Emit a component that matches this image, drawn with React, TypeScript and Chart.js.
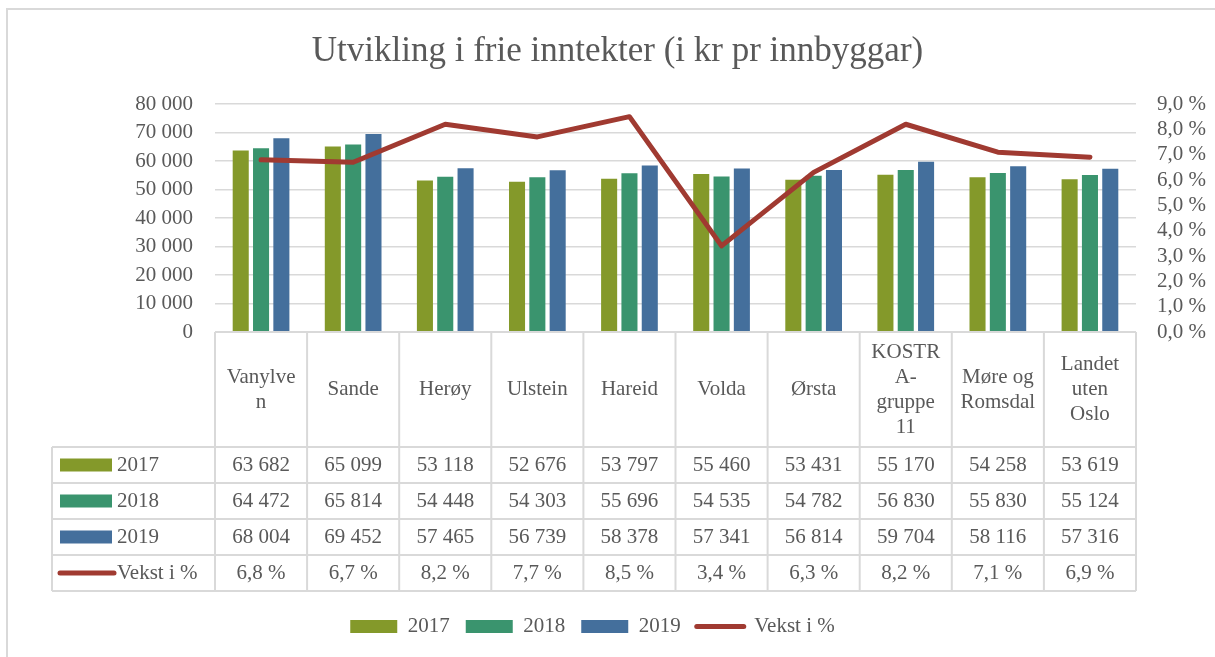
import React, { useEffect, useRef } from "react";
import { Chart, registerables } from "chart.js";

Chart.register(...registerables);

// ---------- data ----------
const CATEGORIES: string[][] = [
  ["Vanylve", "n"],
  ["Sande"],
  ["Herøy"],
  ["Ulstein"],
  ["Hareid"],
  ["Volda"],
  ["Ørsta"],
  ["KOSTR", "A-", "gruppe", "11"],
  ["Møre og", "Romsdal"],
  ["Landet", "uten", "Oslo"],
];
const SERIES_LABELS = ["2017", "2018", "2019"];
const VALUES_2017 = [63682, 65099, 53118, 52676, 53797, 55460, 53431, 55170, 54258, 53619];
const VALUES_2018 = [64472, 65814, 54448, 54303, 55696, 54535, 54782, 56830, 55830, 55124];
const VALUES_2019 = [68004, 69452, 57465, 56739, 58378, 57341, 56814, 59704, 58116, 57316];
const GROWTH_LABEL = "Vekst i %";
const GROWTH = [6.8, 6.7, 8.2, 7.7, 8.5, 3.4, 6.3, 8.2, 7.1, 6.9];
const TITLE = "Utvikling i frie inntekter (i kr pr innbyggar)";
const LEFT_MAX = 80000;
const LEFT_STEP = 10000;
const RIGHT_MAX = 9;
const RIGHT_STEP = 1;

// ---------- style ----------
const BAR_COLORS = ["#84992A", "#3A946E", "#446F9C"];
const LINE_COLOR = "#A03A31";
const TEXT = "#595959";
const GRID = "#D9D9D9";
const FONT = "'Liberation Serif', 'Times New Roman', serif";
const FS = 21;

const fmtInt = (v: number) =>
  String(Math.round(v)).replace(/\B(?=(\d{3})+(?!\d))/g, " ");
const fmtPct = (v: number) => v.toFixed(1).replace(".", ",") + " %";

const HEADER_H = 115;
const ROW_H = 36;
const TABLE_LEFT = 52;

const backgroundPlugin = {
  id: "bgBorder",
  beforeDraw(chart: any) {
    const ctx = chart.ctx;
    ctx.save();
    ctx.fillStyle = "#ffffff";
    ctx.fillRect(0, 0, chart.width, chart.height);
    ctx.strokeStyle = GRID;
    ctx.lineWidth = 2;
    ctx.beginPath();
    ctx.moveTo(7, chart.height);
    ctx.lineTo(7, 9);
    ctx.lineTo(chart.width, 9);
    ctx.stroke();
    ctx.restore();
  },
};

const shiftPlugin = {
  id: "shiftBoxes",
  afterLayout(chart: any) {
    const l = chart.legend;
    if (l) {
      l.left -= 15;
      l.right -= 15;
    }
    const t = chart.titleBlock;
    if (t) {
      t.left += 10;
      t.right += 10;
    }
  },
};

const tablePlugin = {
  id: "dataTable",
  afterDraw(chart: any) {
    const { ctx, chartArea, scales } = chart;
    const xs = scales.x;
    const n = CATEGORIES.length;
    const colW = (chartArea.right - chartArea.left) / n;
    const top = chartArea.bottom;
    const rowsTop = top + HEADER_H;
    const bottom = rowsTop + ROW_H * 4;
    const rows = [
      { label: SERIES_LABELS[0], values: VALUES_2017, color: BAR_COLORS[0], line: false, fmt: fmtInt },
      { label: SERIES_LABELS[1], values: VALUES_2018, color: BAR_COLORS[1], line: false, fmt: fmtInt },
      { label: SERIES_LABELS[2], values: VALUES_2019, color: BAR_COLORS[2], line: false, fmt: fmtInt },
      { label: GROWTH_LABEL, values: GROWTH, color: LINE_COLOR, line: true, fmt: fmtPct },
    ];

    ctx.save();
    ctx.strokeStyle = GRID;
    ctx.lineWidth = 2;
    ctx.beginPath();
    ctx.moveTo(chartArea.left, top);
    ctx.lineTo(chartArea.right, top);
    for (let r = 0; r <= 4; r++) {
      const y = rowsTop + r * ROW_H;
      ctx.moveTo(TABLE_LEFT, y);
      ctx.lineTo(chartArea.right, y);
    }
    for (let k = 0; k <= n; k++) {
      const x = chartArea.left + k * colW;
      ctx.moveTo(x, top);
      ctx.lineTo(x, bottom);
    }
    ctx.moveTo(TABLE_LEFT, rowsTop);
    ctx.lineTo(TABLE_LEFT, bottom);
    ctx.stroke();

    ctx.fillStyle = TEXT;
    ctx.font = `${FS}px ${FONT}`;
    ctx.textAlign = "center";
    ctx.textBaseline = "middle";
    const lh = 25;
    CATEGORIES.forEach((lines, i) => {
      const cx = xs.getPixelForValue(i);
      const y0 = top + HEADER_H / 2 - ((lines.length - 1) * lh) / 2;
      lines.forEach((t, j) => ctx.fillText(t, cx, y0 + j * lh));
    });

    rows.forEach((row, r) => {
      const cy = rowsTop + r * ROW_H + ROW_H / 2;
      if (row.line) {
        ctx.strokeStyle = row.color;
        ctx.lineWidth = 5;
        ctx.lineCap = "round";
        ctx.beginPath();
        ctx.moveTo(TABLE_LEFT + 8, cy);
        ctx.lineTo(TABLE_LEFT + 62, cy);
        ctx.stroke();
      } else {
        ctx.fillStyle = row.color;
        ctx.fillRect(TABLE_LEFT + 8, cy - 6.5, 52, 13);
      }
      ctx.fillStyle = TEXT;
      ctx.textAlign = "left";
      ctx.fillText(row.label, TABLE_LEFT + 65, cy);
      ctx.textAlign = "center";
      row.values.forEach((v, i) => {
        ctx.fillText(row.fmt(v), xs.getPixelForValue(i), cy);
      });
    });
    ctx.restore();
  },
};

export default function App() {
  const ref = useRef<HTMLCanvasElement>(null);

  useEffect(() => {
    if (!ref.current) return;
    const barSets = [VALUES_2017, VALUES_2018, VALUES_2019].map((vals, i) => ({
      type: "bar" as const,
      label: SERIES_LABELS[i],
      data: vals,
      backgroundColor: BAR_COLORS[i],
      borderWidth: 0,
      yAxisID: "y",
      categoryPercentage: 0.662,
      barPercentage: 0.79,
      order: 1,
    }));
    const lineSet = {
      type: "line" as const,
      label: GROWTH_LABEL,
      data: GROWTH,
      borderColor: LINE_COLOR,
      backgroundColor: LINE_COLOR,
      borderWidth: 5,
      pointRadius: 0,
      tension: 0,
      borderCapStyle: "round" as const,
      borderJoinStyle: "round" as const,
      yAxisID: "y1",
      order: 0,
    };
    const legendColors = [...BAR_COLORS, LINE_COLOR];

    const chart = new Chart(ref.current, {
      data: {
        labels: CATEGORIES.map((c) => c.join(" ")),
        datasets: [...barSets, lineSet] as any,
      },
      options: {
        responsive: false,
        animation: false,
        layout: { padding: { left: 0, right: 0, top: 0, bottom: 10 } },
        plugins: {
          title: {
            display: true,
            text: TITLE,
            color: TEXT,
            font: { family: FONT, size: 35, weight: "normal" as any },
            padding: { top: 31, bottom: 31 },
          },
          legend: {
            display: true,
            position: "bottom",
            labels: {
              usePointStyle: true,
              pointStyleWidth: 47,
              boxHeight: 13,
              padding: 16,
              color: TEXT,
              font: { family: FONT, size: FS },
              generateLabels: (c: any) =>
                c.data.datasets.map((ds: any, i: number) => ({
                  text: ds.label,
                  fillStyle: legendColors[i],
                  strokeStyle: legendColors[i],
                  lineWidth: i === 3 ? 5 : 0,
                  lineCap: "round",
                  pointStyle: i === 3 ? "line" : "rect",
                  fontColor: TEXT,
                  hidden: false,
                  datasetIndex: i,
                })),
              sort: (a: any, b: any) => a.datasetIndex - b.datasetIndex,
            },
          },
          tooltip: { enabled: false },
        },
        scales: {
          x: {
            ticks: { display: false },
            grid: { display: false },
            border: { display: false },
            afterFit: (s: any) => {
              s.height = 268;
            },
          },
          y: {
            position: "left",
            min: 0,
            max: LEFT_MAX,
            ticks: {
              stepSize: LEFT_STEP,
              autoSkip: false,
              padding: 22,
              color: TEXT,
              font: { family: FONT, size: FS },
              callback: (v: any) => fmtInt(Number(v)),
            },
            grid: { color: GRID, lineWidth: 1.5, drawTicks: false },
            border: { display: false },
            afterFit: (s: any) => {
              s.width = 215;
            },
          },
          y1: {
            position: "right",
            min: 0,
            max: RIGHT_MAX,
            ticks: {
              stepSize: RIGHT_STEP,
              autoSkip: false,
              padding: 21,
              color: TEXT,
              font: { family: FONT, size: FS },
              callback: (v: any) => fmtPct(Number(v)),
            },
            grid: { display: false, drawTicks: false },
            border: { display: false },
            afterFit: (s: any) => {
              s.width = 79;
            },
          },
        },
      } as any,
      plugins: [backgroundPlugin, shiftPlugin, tablePlugin],
    } as any);
    return () => chart.destroy();
  }, []);

  return (
    <div
      style={{
        position: "fixed",
        left: 0,
        top: 0,
        width: 1215,
        height: 657,
        background: "#fff",
      }}
    >
      <canvas
        ref={ref}
        width={1215}
        height={657}
        style={{ display: "block", width: 1215, height: 657 }}
      />
    </div>
  );
}
